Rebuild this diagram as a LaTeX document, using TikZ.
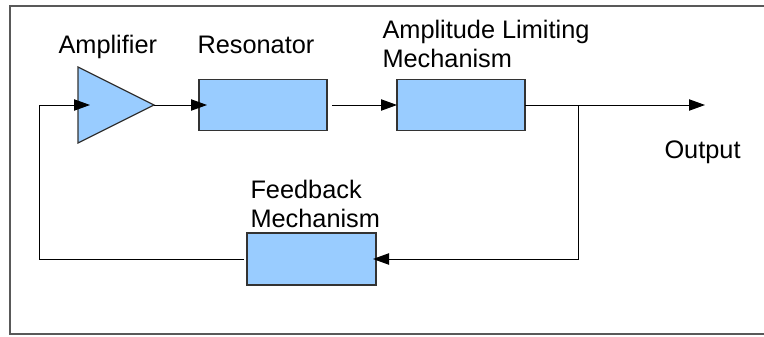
\documentclass[tikz,border=0pt]{standalone}
\usepackage{fontspec}
\setmainfont{Liberation Sans}
\usetikzlibrary{shapes.geometric,arrows.meta}
\begin{document}
\begin{tikzpicture}[x=0.75pt,y=-0.75pt]
\tikzset{
base/.style={font=\fontsize{19pt}{21.75pt}\selectfont,inner sep=0pt},
block/.style={draw=black!80,line width=0.9pt,fill=boxblue,minimum width=96pt,minimum height=38.25pt,inner sep=0pt,outer sep=0pt},
txt/.style={base,align=left},
every path/.style={>={Triangle[length=12pt,width=8.5pt]},line width=0.75pt},
wire/.style={draw,->}}
\definecolor{boxblue}{RGB}{153,204,255}
\useasboundingbox (0,0) rectangle (764,336);
\draw[black!65,line width=1.2pt] (10,6) rectangle (790,334);
% blocks
\node[isosceles triangle,isosceles triangle stretches,draw=black!80,line width=0.9pt,fill=boxblue,minimum width=57pt,minimum height=57pt,inner sep=0pt,outer sep=0pt,anchor=apex] (amp) at (154,105) {};
\node[block] (res) at (263,105) {};
\node[block] (alm) at (461,105) {};
\node[block,minimum width=96.75pt,minimum height=39pt] (fb) at (311.5,259) {};
% labels
\node[txt,anchor=base west] (ampl) at (58,53) {Amplifier};
\node[txt,anchor=base west] (resl) at (197,53) {Resonator};
\node[txt,anchor=north west] (alml) at (382,19.5) {Amplitude Limiting\\Mechanism};
\node[txt,anchor=north west] (fbl) at (250,179.3) {Feedback\\Mechanism};
\node[txt,anchor=base west] (outl) at (664,158) {Output};
\coordinate (tap) at (578,105);
\coordinate (out) at (705,105);
\coordinate (ret) at (39,105);
% connectors
\path[wire,shorten >=-6pt] (amp.apex) -- (res.west);
\path[wire,shorten <=3.75pt] (res.east) -- (alm.west);
\path[wire] (alm.east) -- (out);
\path[wire,shorten >=-2.25pt] (tap) |- (fb.east);
\path[wire,shorten <=2.25pt,shorten >=-9pt] (fb.west) -| (ret) -- (amp.west);
\end{tikzpicture}
\end{document}
